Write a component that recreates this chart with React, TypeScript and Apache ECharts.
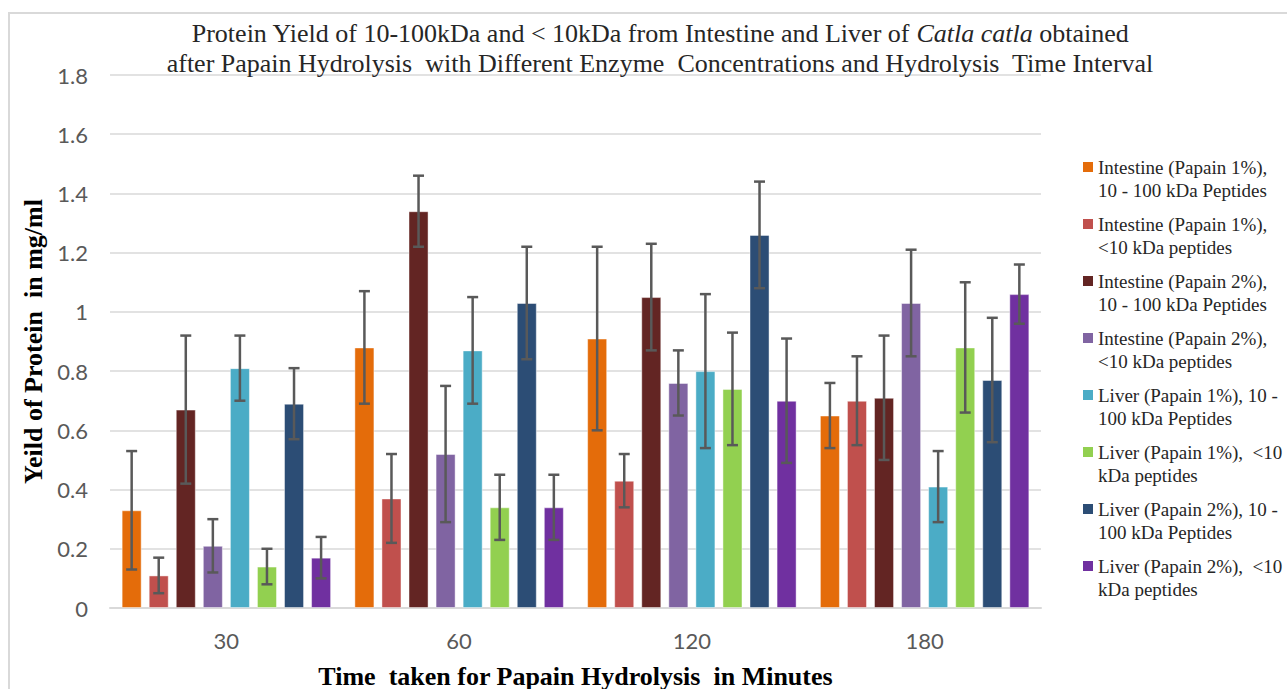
import React, { useEffect, useRef } from "react";
import * as echarts from "echarts";

const categories = ["30", "60", "120", "180"];
const seriesNames = [
  "Intestine (Papain 1%),\n10 - 100 kDa Peptides",
  "Intestine (Papain 1%),\n<10 kDa peptides",
  "Intestine (Papain 2%),\n10 - 100 kDa Peptides",
  "Intestine (Papain 2%),\n<10 kDa peptides",
  "Liver (Papain 1%), 10 -\n100 kDa Peptides",
  "Liver (Papain 1%),  <10\nkDa peptides",
  "Liver (Papain 2%), 10 -\n100 kDa Peptides",
  "Liver (Papain 2%),  <10\nkDa peptides",
];
const colors = ["#E46C0A", "#C0504D", "#632523", "#8064A2", "#4BACC6", "#92D050", "#2C4D75", "#7030A0"];

const intestine1Large = [0.33, 0.88, 0.91, 0.65];
const intestine1Small = [0.11, 0.37, 0.43, 0.7];
const intestine2Large = [0.67, 1.34, 1.05, 0.71];
const intestine2Small = [0.21, 0.52, 0.76, 1.03];
const liver1Large = [0.81, 0.87, 0.8, 0.41];
const liver1Small = [0.14, 0.34, 0.74, 0.88];
const liver2Large = [0.69, 1.03, 1.26, 0.77];
const liver2Small = [0.17, 0.34, 0.7, 1.06];

const intestine1LargeErr = [0.2, 0.19, 0.31, 0.11];
const intestine1SmallErr = [0.06, 0.15, 0.09, 0.15];
const intestine2LargeErr = [0.25, 0.12, 0.18, 0.21];
const intestine2SmallErr = [0.09, 0.23, 0.11, 0.18];
const liver1LargeErr = [0.11, 0.18, 0.26, 0.12];
const liver1SmallErr = [0.06, 0.11, 0.19, 0.22];
const liver2LargeErr = [0.12, 0.19, 0.18, 0.21];
const liver2SmallErr = [0.07, 0.11, 0.21, 0.1];

const yTicks = { min: 0, max: 1.8, interval: 0.2 };

const values = [intestine1Large, intestine1Small, intestine2Large, intestine2Small, liver1Large, liver1Small, liver2Large, liver2Small];
const errors = [intestine1LargeErr, intestine1SmallErr, intestine2LargeErr, intestine2SmallErr, liver1LargeErr, liver1SmallErr, liver2LargeErr, liver2SmallErr];

const BAR_GAP = 0.35;
const CAT_GAP = 0.1;
const SERIF = "'Liberation Serif', 'Times New Roman', serif";
const SANS = "Lato, 'Open Sans', sans-serif";

export default function App() {
  const ref = useRef<HTMLDivElement>(null);
  useEffect(() => {
    if (!ref.current) return;
    const chart = echarts.init(ref.current, null, { renderer: "svg" });
    const n = values.length;
    const errData: number[][] = [];
    values.forEach((vals, si) => {
      vals.forEach((v, ci) => {
        errData.push([ci, v - errors[si][ci], v + errors[si][ci], si]);
      });
    });
    const legendIcon = "path://M0,0L0.01,0L0,0.01Z M0,6L10,6L10,16L0,16Z M0,46L0.01,46L0,45.99Z";
    const option: any = {
      animation: false,
      backgroundColor: "#ffffff",
      title: {
        left: 655,
        top: 13,
        textAlign: "center",
        text: "Protein Yield of 10-100kDa and < 10kDa from Intestine and Liver of {i|Catla catla} obtained\nafter Papain Hydrolysis  with Different Enzyme  Concentrations and Hydrolysis  Time Interval",
        textStyle: {
          fontFamily: SERIF,
          fontSize: 26,
          fontWeight: "normal",
          color: "#262626",
          lineHeight: 30,
          rich: {
            i: { fontFamily: SERIF, fontSize: 26, fontStyle: "italic", color: "#262626", lineHeight: 30 },
          },
        },
      },
      graphic: [
        {
          type: "rect",
          shape: { x: 9, y: 13, width: 1400, height: 800 },
          style: { fill: "none", stroke: "#d9d9d9", lineWidth: 2 },
          silent: true,
          z: -10,
        },
      ],
      legend: {
        orient: "vertical",
        left: 1078,
        top: 151,
        data: seriesNames,
        icon: legendIcon,
        itemWidth: 10,
        itemHeight: 46,
        itemGap: 11,
        itemStyle: { borderWidth: 0 },
        textStyle: { fontFamily: SERIF, fontSize: 19, lineHeight: 23, color: "#262626" },
      },
      grid: {
        left: 110,
        right: 1287 - 1041,
        top: 75,
        bottom: 689 - 608,
        containLabel: false,
        outerBoundsMode: "none",
      },
      xAxis: {
        type: "category",
        data: categories,
        axisLine: { lineStyle: { color: "#d9d9d9", width: 2 } },
        axisTick: { show: false },
        axisLabel: { fontFamily: SANS, fontSize: 22, color: "#595959", margin: 21 },
        name: "Time  taken for Papain Hydrolysis  in Minutes",
        nameLocation: "middle",
        nameGap: 55,
        nameTextStyle: { fontFamily: SERIF, fontSize: 26, fontWeight: "bold", color: "#000" },
      },
      yAxis: {
        type: "value",
        min: yTicks.min,
        max: yTicks.max,
        interval: yTicks.interval,
        axisLine: { show: false },
        axisTick: { show: false },
        splitLine: { lineStyle: { color: "#d9d9d9", width: 1.5 } },
        axisLabel: { fontFamily: SANS, fontSize: 22, color: "#595959", margin: 22 },
        name: "Yeild of Protein  in mg/ml",
        nameLocation: "middle",
        nameGap: 60,
        nameRotate: 90,
        nameTextStyle: { fontFamily: SERIF, fontSize: 26, fontWeight: "bold", color: "#000" },
      },
      series: [
        ...values.map((vals, si) => ({
          type: "bar",
          name: seriesNames[si],
          data: vals,
          barGap: BAR_GAP * 100 + "%",
          barCategoryGap: CAT_GAP * 100 + "%",
          itemStyle: { color: colors[si], borderColor: "rgba(255,255,255,0.45)", borderWidth: 1 },
        })),
        {
          type: "custom",
          name: "errors",
          data: errData,
          encode: { x: 0, y: [1, 2] },
          z: 10,
          renderItem: (params: any, api: any) => {
            const ci = api.value(0);
            const lo = api.value(1);
            const hi = api.value(2);
            const si = api.value(3);
            const band = api.size([1, 0])[0];
            const bw = (band * (1 - CAT_GAP)) / (n + (n - 1) * BAR_GAP);
            const center = api.coord([ci, 0])[0];
            const x = center + (si - (n - 1) / 2) * bw * (1 + BAR_GAP);
            const yl = api.coord([ci, lo])[1];
            const yh = api.coord([ci, hi])[1];
            const cap = 5.5;
            const style = { stroke: "#595959", lineWidth: 2.5 };
            return {
              type: "group",
              children: [
                { type: "line", shape: { x1: x, y1: yl, x2: x, y2: yh }, style },
                { type: "line", shape: { x1: x - cap, y1: yh, x2: x + cap, y2: yh }, style },
                { type: "line", shape: { x1: x - cap, y1: yl, x2: x + cap, y2: yl }, style },
              ],
            };
          },
        },
      ],
    };
    chart.setOption(option);
    return () => chart.dispose();
  }, []);
  return (
    <div
      ref={ref}
      style={{ position: "absolute", left: 0, top: 0, width: 1287, height: 689 }}
    />
  );
}
